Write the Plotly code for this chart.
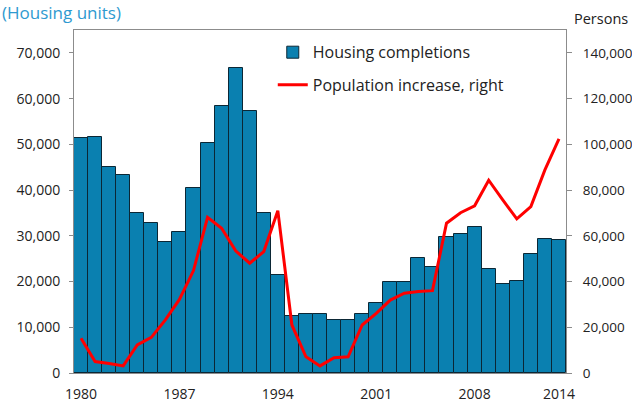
import plotly.graph_objects as go

years = list(range(1980, 2015))
housing_completions = [51300, 51600, 45100, 43300, 34900, 32800, 28700, 30900, 40400, 50300,
                       58300, 66800, 57300, 34900, 21500, 12500, 13000, 12900, 11500, 11600,
                       12900, 15200, 19800, 19800, 25200, 23100, 29800, 30500, 31900, 22800,
                       19400, 20100, 26000, 29200, 29000]
population_increase = [15200, 5000, 4200, 3100, 12300, 15600, 23200, 32200, 44800, 68100,
                       63300, 53400, 48000, 53100, 71000, 21000, 7100, 3100, 6700, 7100,
                       21000, 26100, 31900, 34900, 35600, 36000, 65500, 70100, 73100, 84300,
                       75700, 67400, 72800, 88800, 102400]
x_ticks = [1980, 1987, 1994, 2001, 2008, 2014]
left_ticks = list(range(0, 70001, 10000))
right_ticks = list(range(0, 140001, 20000))

FONT = "Open Sans"
BAR_COLOR = "#0a80b0"
AXIS_COLOR = "#8c8c8c"

fig = go.Figure()

# 住宅完工（左轴）
fig.add_trace(go.Bar(
    x=years, y=housing_completions,
    name="Housing completions",
    marker=dict(color=BAR_COLOR, line=dict(color="#0b2735", width=1)),
    legend="legend",
))

# 人口增长（右轴）
fig.add_trace(go.Scatter(
    x=years, y=population_increase,
    name="Population increase, right",
    mode="lines",
    line=dict(color="#ff0000", width=3),
    yaxis="y2",
    legend="legend2",
))

fig.update_layout(
    width=632, height=402,
    margin=dict(l=74, r=66, t=30, b=29, autoexpand=False),
    paper_bgcolor="white", plot_bgcolor="white",
    font=dict(family=FONT, size=14, color="#222222"),
    bargap=0,
    xaxis=dict(
        range=[1979.5, 2014.5], automargin=False,
        tickmode="array", tickvals=x_ticks, ticktext=[str(t) for t in x_ticks],
        showgrid=False, zeroline=False,
        showline=True, linecolor=AXIS_COLOR, linewidth=1, mirror=True,
        ticks="", ticklabelstandoff=8,
    ),
    yaxis=dict(
        range=[0, 75000], automargin=False,
        tickmode="array", tickvals=left_ticks, ticktext=[f"{v:,}" for v in left_ticks],
        showgrid=False, zeroline=False,
        showline=True, linecolor=AXIS_COLOR, linewidth=1,
        ticks="outside", ticklen=4, tickcolor=AXIS_COLOR, ticklabelstandoff=6,
    ),
    yaxis2=dict(
        range=[0, 150000], overlaying="y", side="right", automargin=False,
        tickmode="array", tickvals=right_ticks, ticktext=[f"{v:,}" for v in right_ticks],
        tickfont=dict(size=13.5),
        showgrid=False, zeroline=False,
        showline=True, linecolor=AXIS_COLOR, linewidth=1,
        ticks="outside", ticklen=5, tickcolor=AXIS_COLOR, ticklabelstandoff=8,
    ),
    legend=dict(
        x=0.404, y=0.935, xanchor="left", yanchor="middle", itemwidth=30,
        bgcolor="rgba(0,0,0,0)", font=dict(family=FONT, size=16, color="#222222"),
    ),
    legend2=dict(
        x=0.404, y=0.84, xanchor="left", yanchor="middle", itemwidth=30,
        bgcolor="rgba(0,0,0,0)", font=dict(family=FONT, size=16, color="#222222"),
    ),
    showlegend=True,
    annotations=[
        dict(text="(Housing units)", xref="paper", yref="paper", x=0, y=1,
             xanchor="left", yanchor="bottom", xshift=-74, yshift=4, showarrow=False,
             font=dict(family=FONT, size=17, color="#2e9ad0")),
        dict(text="Persons", xref="paper", yref="paper", x=1, y=1,
             xanchor="left", yanchor="bottom", xshift=6, yshift=0, showarrow=False,
             font=dict(family=FONT, size=14.5, color="#222222")),
    ],
)

# 去掉页面默认边距，使图表与窗口对齐
fig.write_html("out.html", config={"displayModeBar": False},
               post_script="document.body.style.margin='0';")
